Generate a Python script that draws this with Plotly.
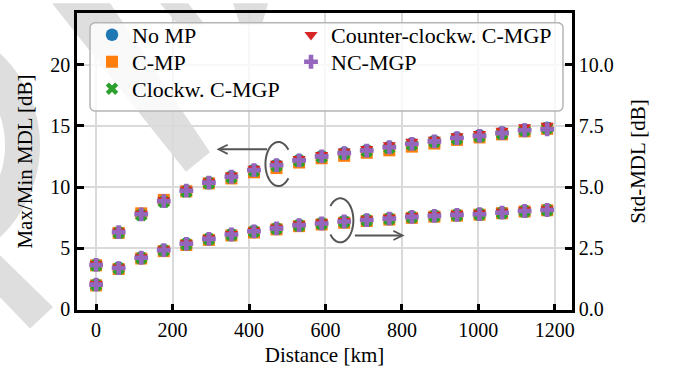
import numpy as np
import plotly.graph_objects as go

# ---------------- data ----------------
distance_km = [0, 59, 118, 177, 236, 295, 354, 413, 472, 531, 590,
               649, 708, 767, 826, 885, 944, 1003, 1062, 1121, 1180]

series_names = ["No MP", "C-MP", "Clockw. C-MGP", "Counter-clockw. C-MGP", "NC-MGP"]

# Max/Min MDL [dB] (left axis)
maxmin_no_mp = [3.65, 6.30, 7.80, 8.85, 9.72, 10.38, 10.86, 11.40, 11.80, 12.20, 12.52,
                12.80, 13.00, 13.28, 13.55, 13.76, 14.03, 14.22, 14.45, 14.70, 14.85]
maxmin_c_mp = [3.60, 6.25, 7.85, 8.95, 9.65, 10.30, 10.70, 11.20, 11.55, 12.00, 12.35,
               12.55, 12.80, 13.00, 13.30, 13.55, 13.85, 14.05, 14.30, 14.55, 14.75]
maxmin_clockw = [3.58, 6.25, 7.70, 8.78, 9.62, 10.30, 10.78, 11.30, 11.72, 12.12, 12.45,
                 12.70, 12.92, 13.18, 13.45, 13.68, 13.93, 14.12, 14.35, 14.60, 14.80]
maxmin_counter = [3.70, 6.38, 7.82, 8.92, 9.78, 10.45, 10.95, 11.50, 11.92, 12.30, 12.62,
                  12.92, 13.12, 13.42, 13.70, 13.88, 14.15, 14.35, 14.60, 14.90, 15.02]
maxmin_nc = [3.63, 6.31, 7.77, 8.84, 9.70, 10.36, 10.84, 11.38, 11.78, 12.18, 12.50,
             12.77, 12.98, 13.25, 13.52, 13.73, 14.00, 14.18, 14.40, 14.64, 14.72]

# Std-MDL [dB] (right axis)
std_no_mp = [1.02, 1.70, 2.12, 2.43, 2.69, 2.89, 3.07, 3.20, 3.32, 3.45, 3.52,
             3.60, 3.66, 3.72, 3.79, 3.83, 3.87, 3.90, 3.96, 4.03, 4.07]
std_c_mp = [0.98, 1.65, 2.08, 2.38, 2.63, 2.84, 3.02, 3.14, 3.27, 3.40, 3.47,
            3.54, 3.61, 3.67, 3.74, 3.79, 3.83, 3.87, 3.93, 4.00, 4.05]
std_clockw = [0.99, 1.67, 2.09, 2.40, 2.65, 2.86, 3.04, 3.17, 3.29, 3.42, 3.49,
              3.57, 3.63, 3.69, 3.76, 3.80, 3.84, 3.88, 3.93, 4.00, 4.05]
std_counter = [1.04, 1.72, 2.14, 2.45, 2.71, 2.91, 3.09, 3.22, 3.34, 3.47, 3.55,
               3.62, 3.69, 3.75, 3.82, 3.86, 3.90, 3.93, 3.99, 4.06, 4.10]
std_nc = [1.01, 1.69, 2.11, 2.42, 2.68, 2.88, 3.06, 3.19, 3.31, 3.44, 3.51,
          3.59, 3.65, 3.71, 3.78, 3.82, 3.86, 3.89, 3.95, 4.02, 4.06]

left_ticks = [0, 5, 10, 15, 20]
right_ticks = [0.0, 2.5, 5.0, 7.5, 10.0]
x_ticks = [0, 200, 400, 600, 800, 1000, 1200]

# ---------------- styles ----------------
colors = ["#1f77b4", "#ff7f0e", "#2ca02c", "#d62728", "#9467bd"]
symbols = ["circle", "square", "x", "triangle-down", "cross"]
sizes = [12.5, 12, 11, 11.5, 11.5]
FONT = "'Liberation Serif', 'Times New Roman', Times, 'DejaVu Serif', serif"

# legend slot (column, row) for each series, matplotlib ncol=2 ordering
legend_slot = [(0, 0), (0, 1), (0, 2), (1, 0), (1, 1)]
legend_ids = ["legend", "legend2", "legend3", "legend4", "legend5"]

maxmin_all = [maxmin_no_mp, maxmin_c_mp, maxmin_clockw, maxmin_counter, maxmin_nc]
std_all = [std_no_mp, std_c_mp, std_clockw, std_counter, std_nc]

fig = go.Figure()
for i, name in enumerate(series_names):
    mk = dict(color=colors[i], symbol=symbols[i], size=sizes[i], line=dict(width=0))
    fig.add_trace(go.Scatter(x=distance_km, y=maxmin_all[i], mode="markers", name=name,
                             marker=mk, legend=legend_ids[i], yaxis="y"))
for i, name in enumerate(series_names):
    mk = dict(color=colors[i], symbol=symbols[i], size=sizes[i], line=dict(width=0))
    fig.add_trace(go.Scatter(x=distance_km, y=std_all[i], mode="markers", name=name,
                             marker=mk, showlegend=False, yaxis="y2"))

# ---------------- watermark (decorative, pixel -> paper) ----------------
W, H = 673, 373
ML, MR, MT, MB = 77, 101, 10, 60
PW, PH = W - ML - MR, H - MT - MB


def to_paper(px, py):
    return (px - ML) / PW, (H - MB - py) / PH


def poly_path(pts, close=True):
    s = ""
    for k, (px, py) in enumerate(pts):
        xp, yp = to_paper(px, py)
        s += ("M" if k == 0 else "L") + f"{xp:.4f},{yp:.4f}"
    return s + ("Z" if close else "")


wm_color = "#dedede"
shapes = []
th = np.linspace(-1.45, 1.45, 60)
cx, cy, r0, r1 = -90, 145, 95, 130
outer = [(cx + r1 * np.cos(t), cy + r1 * np.sin(t)) for t in th]
inner = [(cx + r0 * np.cos(t), cy + r0 * np.sin(t)) for t in th[::-1]]
shapes.append(dict(type="path", path=poly_path(outer + inner), xref="paper", yref="paper",
                   fillcolor=wm_color, line=dict(width=0), layer="below"))
for pts in [
    [(52, 0), (110, 0), (210, 152), (186, 172)],
    [(0, 257), (53, 310), (30, 332), (0, 300)],
    [(160, 0), (188, 0), (205, 22), (178, 22)],
    [(233, 0), (268, 0), (262, 22), (240, 22)],
]:
    shapes.append(dict(type="path", path=poly_path(pts), xref="paper", yref="paper",
                       fillcolor=wm_color, line=dict(width=0), layer="below"))

# legend frame (rounded box behind the legend entries)
bx0, by0, bx1, by1, rr = 90, 20, 563, 110, 5
frame = []
for (ccx, ccy, a0, a1) in [(bx1 - rr, by0 + rr, -90, 0), (bx1 - rr, by1 - rr, 0, 90),
                           (bx0 + rr, by1 - rr, 90, 180), (bx0 + rr, by0 + rr, 180, 270)]:
    for a in np.radians(np.linspace(a0, a1, 6)):
        frame.append((ccx + rr * np.cos(a), ccy + rr * np.sin(a)))
shapes.append(dict(type="path", path=poly_path(frame), xref="paper", yref="paper",
                   fillcolor="rgba(255,255,255,0.8)", line=dict(color="#b5b5b5", width=1.5),
                   layer="above"))

# ---------------- annotation arcs (data coords) ----------------
arc_color = "#555555"
ucx, ucy = distance_km[8] + 5, maxmin_nc[8] + 0.1
t = np.radians(np.linspace(40, 320, 50))
p = "".join(("M" if k == 0 else "L") + f"{ucx + 34 * np.cos(a):.3f},{ucy + 1.8 * np.sin(a):.3f}"
            for k, a in enumerate(t))
shapes.append(dict(type="path", path=p, xref="x", yref="y", line=dict(color=arc_color, width=2)))
lcx, lcy = distance_km[11] - 10, std_nc[11] + 0.05
t = np.radians(np.linspace(-140, 140, 50))
p = "".join(("M" if k == 0 else "L") + f"{lcx + 34 * np.cos(a):.3f},{lcy + 0.9 * np.sin(a):.3f}"
            for k, a in enumerate(t))
shapes.append(dict(type="path", path=p, xref="x", yref="y2", line=dict(color=arc_color, width=2)))

annotations = [
    dict(x=ucx - 162, y=ucy + 1.2, ax=ucx - 26, ay=ucy + 1.2, xref="x", yref="y",
         axref="x", ayref="y", text="", showarrow=True, arrowhead=5, arrowsize=0.9,
         arrowwidth=2, arrowcolor=arc_color),
    dict(x=lcx + 168, y=lcy - 0.62, ax=lcx + 34, ay=lcy - 0.62, xref="x", yref="y2",
         axref="x", ayref="y2", text="", showarrow=True, arrowhead=5, arrowsize=0.9,
         arrowwidth=2, arrowcolor=arc_color),
]

legends = {}
col_x = [92, 291]
row_top = [11, 38.5, 66]
for i, lid in enumerate(legend_ids):
    c, r = legend_slot[i]
    legends[lid] = dict(x=(col_x[c] - ML) / PW, y=(H - MB - row_top[r]) / PH,
                        xanchor="left", yanchor="top", orientation="v",
                        bgcolor="rgba(0,0,0,0)", borderwidth=0,
                        font=dict(family=FONT, size=22, color="black"))

grid_c = "#dadada"
fig.update_layout(
    width=W, height=H,
    margin=dict(l=ML, r=MR, t=MT, b=MB),
    paper_bgcolor="white", plot_bgcolor="rgba(0,0,0,0)",
    font=dict(family=FONT, size=20, color="black"),
    shapes=shapes, annotations=annotations,
    showlegend=True,
    **legends,
    xaxis=dict(range=[-50, 1245], tickvals=x_ticks, ticks="inside", ticklen=6, tickwidth=2.5,
               tickcolor="black", showline=True, linecolor="black", linewidth=2.5, mirror=True,
               showgrid=True, gridcolor=grid_c, gridwidth=1.6, zeroline=False,
               title=dict(text="Distance [km]", font=dict(family=FONT, size=21), standoff=8),
               tickfont=dict(family=FONT, size=20)),
    yaxis=dict(range=[-0.05, 24.22], tickvals=left_ticks, ticks="inside", ticklen=7, tickwidth=2.5,
               tickcolor="black", showline=True, linecolor="black", linewidth=2.5,
               showgrid=True, gridcolor=grid_c, gridwidth=1.6, zeroline=False,
               title=dict(text="Max/Min MDL [dB]", font=dict(family=FONT, size=21), standoff=12),
               tickfont=dict(family=FONT, size=20)),
    yaxis2=dict(range=[-0.025, 12.11], tickvals=right_ticks, tickformat=".1f", overlaying="y",
                side="right", ticks="inside", ticklen=7, tickwidth=2.5, tickcolor="black",
                showline=True, linecolor="black", linewidth=2.5, showgrid=False, zeroline=False,
                title=dict(text="Std-MDL [dB]", font=dict(family=FONT, size=21), standoff=18),
                tickfont=dict(family=FONT, size=20)),
)

fig.write_html("out.html")
